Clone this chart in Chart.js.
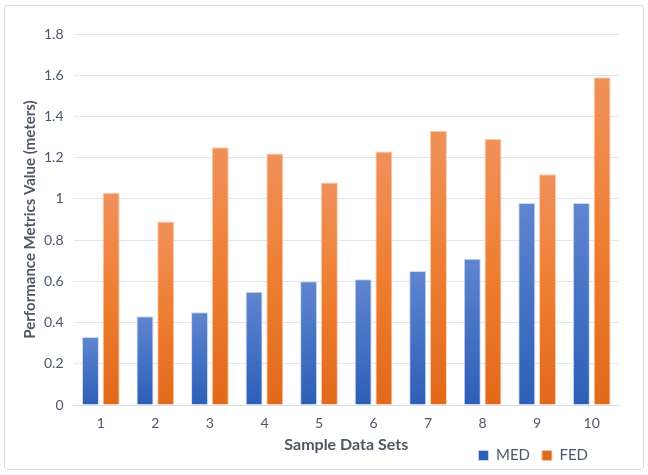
<!DOCTYPE html>
<html>
<head>
<meta charset="utf-8">
<script src="https://cdn.jsdelivr.net/npm/chart.js@4/dist/chart.umd.min.js"></script>
<style>
  body { margin: 0; background: #fff; }
  #wrap { position: relative; width: 648px; height: 475px; }
  #frame { position: absolute; left: 4px; top: 5px; width: 638px; height: 463px; border: 1px solid #dcdcdc; border-radius: 3px; }
  #chart { position: absolute; left: 0; top: 0; }
</style>
</head>
<body>
<div id="wrap">
  <div id="frame"></div>
  <canvas id="chart" width="648" height="475"></canvas>
</div>
<script>
// categories + series
const sampleSets = ['1', '2', '3', '4', '5', '6', '7', '8', '9', '10']
const medValues = [0.33, 0.43, 0.45, 0.55, 0.6, 0.61, 0.65, 0.71, 0.98, 0.98]
const fedValues = [1.03, 0.89, 1.25, 1.22, 1.08, 1.23, 1.33, 1.29, 1.12, 1.59]
const yTicks = [0, 0.2, 0.4, 0.6, 0.8, 1, 1.2, 1.4, 1.6, 1.8]

const textColor = '#4d5769'
const fontFamily = 'Lato, "Open Sans", sans-serif'

// gradient per bar, lighter on top like the office fill
function barGradient(top, mid, bottom) {
  return (ctx) => {
    const chart = ctx.chart
    const y = chart.scales.y
    if (!y || ctx.raw === undefined) return mid
    const y0 = y.getPixelForValue(ctx.raw)
    const y1 = y.getPixelForValue(0)
    if (!isFinite(y0) || !isFinite(y1) || y0 === y1) return mid
    const g = chart.ctx.createLinearGradient(0, y0, 0, y1)
    g.addColorStop(0, top)
    g.addColorStop(0.5, mid)
    g.addColorStop(1, bottom)
    return g
  }
}

// move legend to the bottom right corner, next to the axis title
const legendSpot = {
  id: 'legendSpot',
  afterLayout(chart) {
    const lg = chart.legend
    if (!lg) return
    const h = lg.height
    lg.top = 436
    lg.bottom = lg.top + h
    lg.left = 400
    lg.right = 600
  },
}

new Chart(document.getElementById('chart'), {
  type: 'bar',
  data: {
    labels: sampleSets,
    datasets: [
      {
        label: 'MED',
        data: medValues,
        backgroundColor: barGradient('#6185d0', '#4472c4', '#2e5eb7'),
        borderColor: 'rgba(200, 215, 240, 0.9)',
        borderWidth: 1,
        borderSkipped: 'bottom',
      },
      {
        label: 'FED',
        data: fedValues,
        backgroundColor: barGradient('#f0915b', '#ee7e31', '#e1691a'),
        borderColor: 'rgba(250, 200, 170, 0.9)',
        borderWidth: 1,
        borderSkipped: 'bottom',
      },
    ],
  },
  options: {
    responsive: false,
    animation: false,
    categoryPercentage: 0.76,
    barPercentage: 0.82,
    layout: { padding: { left: 21, right: 29, top: 34, bottom: -16 } },
    scales: {
      x: {
        grid: { display: false },
        border: { color: '#d9dde6', width: 1 },
        ticks: { color: textColor, font: { family: fontFamily, size: 14 }, padding: 2 },
        title: {
          display: true,
          text: 'Sample Data Sets',
          color: textColor,
          font: { family: fontFamily, size: 16, weight: 'bold' },
          padding: { top: 1, bottom: 0 },
        },
      },
      y: {
        min: 0,
        max: 1.8,
        afterBuildTicks: (axis) => {
          axis.ticks = yTicks.map((v) => ({ value: v }))
        },
        grid: { color: '#e3e5ec', drawTicks: false },
        border: { display: false },
        ticks: {
          color: textColor,
          font: { family: fontFamily, size: 14 },
          padding: 10,
          callback: (v) => String(Math.round(v * 10) / 10),
        },
        title: {
          display: true,
          text: 'Performance Metrics Value (meters)',
          color: textColor,
          font: { family: fontFamily, size: 15, weight: 'bold' },
          padding: { top: 0, bottom: -5 },
        },
      },
    },
    plugins: {
      legend: {
        position: 'bottom',
        align: 'end',
        fullSize: false,
        labels: {
          color: textColor,
          font: { family: fontFamily, size: 15 },
          boxWidth: 10,
          boxHeight: 10,
          padding: 12,
          useBorderRadius: false,
        },
      },
      tooltip: { enabled: false },
    },
  },
  plugins: [legendSpot],
})
</script>
</body>
</html>
